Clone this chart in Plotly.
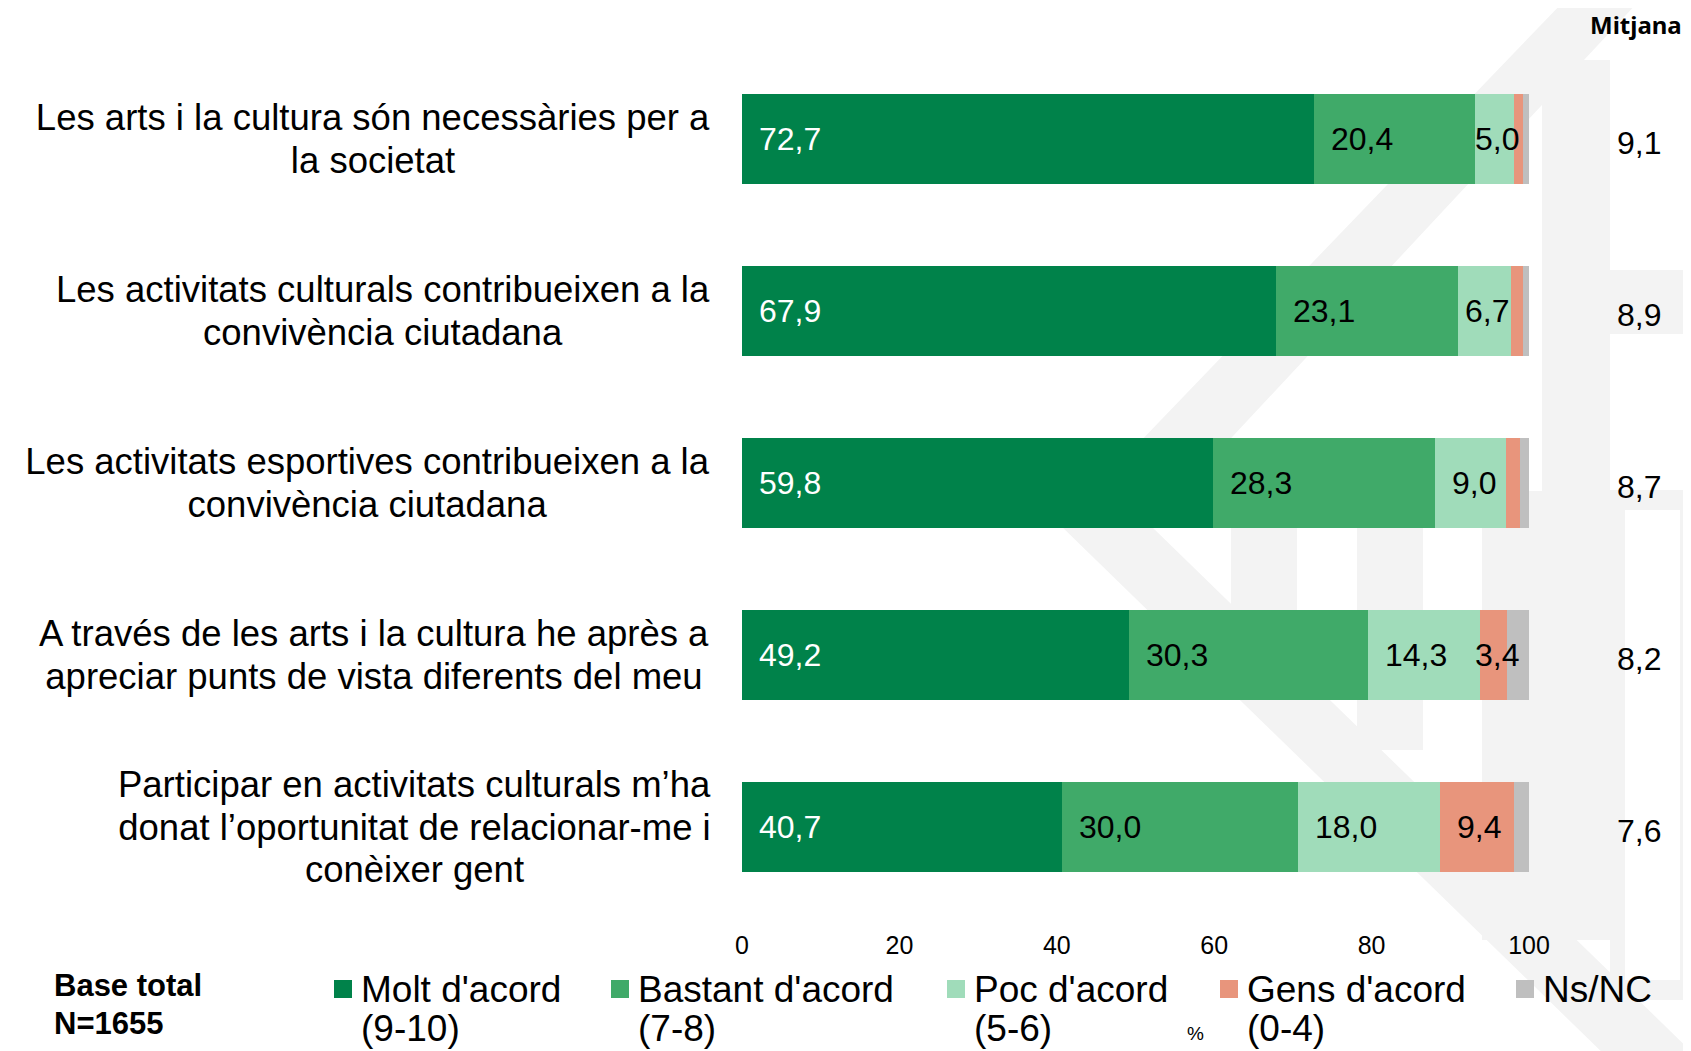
import plotly.graph_objects as go

# statements (top to bottom), one list entry per text line
statements = [
    ["Les arts i la cultura són necessàries per a", "la societat"],
    ["Les activitats culturals contribueixen a la", "convivència ciutadana"],
    ["Les activitats esportives contribueixen a la", "convivència ciutadana"],
    ["A través de les arts i la cultura he après a", "apreciar punts de vista diferents del meu"],
    ["Participar en activitats culturals m’ha", "donat l’oportunitat de relacionar-me i", "conèixer gent"],
]

# % per answer
molt = [72.7, 67.9, 59.8, 49.2, 40.7]
bastant = [20.4, 23.1, 28.3, 30.3, 30.0]
poc = [5.0, 6.7, 9.0, 14.3, 18.0]
gens = [1.2, 1.6, 1.7, 3.4, 9.4]
nsnc = [0.7, 0.7, 1.2, 2.8, 1.9]

mitjana = [9.1, 8.9, 8.7, 8.2, 7.6]

series_names = ["Molt d'acord", "Bastant d'acord", "Poc d'acord", "Gens d'acord", "Ns/NC"]
series_sub = ["(9-10)", "(7-8)", "(5-6)", "(0-4)", ""]
series_values = [molt, bastant, poc, gens, nsnc]
colors = ["#00824A", "#40AA69", "#A0DCBA", "#E8957C", "#BFBFBF"]
label_colors = ["white", "black", "black", "black", None]

# page has an 8px body margin, so the figure is drawn from (8, 8)
OFF = 8
W, H = 1691 - OFF, 1051 - OFF
L, R, T, B = 742 - OFF, 162, 53 - OFF, 138
PW, PH = W - L - R, H - T - B


def px_x(px):
    return (px - OFF - L) / PW


def px_y(py):
    return (H - B - (py - OFF)) / PH


FONT = "Liberation Sans, Arial, sans-serif"
rows = list(range(len(statements)))

fig = go.Figure()

for name, vals, col in zip(series_names, series_values, colors):
    fig.add_trace(go.Bar(
        y=rows, x=vals, orientation="h", name=name,
        marker=dict(color=col, line=dict(width=0)),
        showlegend=False, hoverinfo="x",
    ))

annotations = []

# value labels, inside base with padding, centred when the segment is narrow
pad = 1.9
for k, (vals, tcol) in enumerate(zip(series_values, label_colors)):
    if tcol is None:
        continue
    for i in rows:
        v = vals[i]
        if v < 3:
            continue
        start = sum(sv[i] for sv in series_values[:k])
        txt = f"{v:.1f}".replace(".", ",")
        tw = len(txt) * 1.95 - 0.5
        x0 = start + min(pad, (v - tw) / 2)
        annotations.append(dict(
            x=x0, y=i, xref="x", yref="y", text=txt, showarrow=False,
            xanchor="left", yanchor="middle",
            font=dict(family=FONT, size=32, color=tcol),
        ))

# statement labels: each line centred inside a box that ends left of the axis
box_w = [700, 680, 711, 698, 617]
line_step = 0.247
for i, lines in enumerate(statements):
    n = len(lines)
    for j, line in enumerate(lines):
        annotations.append(dict(
            x=0, y=i + (j - (n - 1) / 2) * line_step, xref="paper", yref="y",
            text=line, showarrow=False, width=box_w[i],
            xanchor="right", yanchor="middle", align="center", xshift=-17,
            font=dict(family=FONT, size=36.5, color="black"),
        ))

# mitjana column
annotations.append(dict(
    x=px_x(1636), y=px_y(24), xref="paper", yref="paper", text="<b>Mitjana</b>",
    showarrow=False, xanchor="center", yanchor="middle",
    font=dict(family="Noto Sans, sans-serif", size=24, color="black"),
))
for i, m in enumerate(mitjana):
    annotations.append(dict(
        x=px_x(1639), y=i, xref="paper", yref="y", text=f"{m:.1f}".replace(".", ","),
        showarrow=False, xanchor="center", yanchor="middle", yshift=-4,
        font=dict(family=FONT, size=32, color="black"),
    ))

# base note and % unit
for txt, yy in [("Base total", 985), ("N=1655", 1023)]:
    annotations.append(dict(
        x=px_x(52), y=px_y(yy), xref="paper", yref="paper",
        text=f"<b>{txt}</b>", showarrow=False, xanchor="left", yanchor="middle",
        font=dict(family=FONT, size=31, color="black"),
    ))
annotations.append(dict(
    x=px_x(1195), y=px_y(1033), xref="paper", yref="paper", text="%", showarrow=False,
    xanchor="center", yanchor="middle", font=dict(family=FONT, size=19, color="black"),
))

# hand-placed legend
shapes = []
legend_left = [334, 611, 947, 1220, 1516]
for name, sub, col, lx in zip(series_names, series_sub, colors, legend_left):
    shapes.append(dict(
        type="rect", xref="paper", yref="paper",
        x0=px_x(lx), x1=px_x(lx + 18), y0=px_y(998), y1=px_y(980),
        fillcolor=col, line=dict(width=0),
    ))
    for txt, yy in [(name, 989), (sub, 1029)]:
        if not txt:
            continue
        annotations.append(dict(
            x=px_x(lx + 25), y=px_y(yy), xref="paper", yref="paper", text=txt,
            showarrow=False, xanchor="left", yanchor="middle", align="left",
            font=dict(family=FONT, size=37, color="black"),
        ))

# faint background logo
wm = "#F3F3F3"
chevron = [(1565, 0), (1640, 0), (1150, 525), (1700, 1060), (1610, 1060), (1060, 525)]
path = "M " + " L ".join(f"{px_x(a):.4f},{px_y(b):.4f}" for a, b in chevron) + " Z"
shapes.append(dict(type="path", path=path, xref="paper", yref="paper",
                   fillcolor=wm, line=dict(width=0), layer="below"))
for x0, y0, x1, y1 in [(1542, 60, 1610, 940), (1610, 270, 1691, 334), (1610, 490, 1691, 1000),
                       (1231, 526, 1297, 700), (1357, 526, 1423, 750), (1482, 491, 1546, 940)]:
    shapes.append(dict(type="rect", xref="paper", yref="paper",
                       x0=px_x(x0), x1=px_x(x1), y0=px_y(y1), y1=px_y(y0),
                       fillcolor=wm, line=dict(width=0), layer="below"))
shapes.append(dict(type="rect", xref="paper", yref="paper",
                   x0=px_x(1625), x1=px_x(1680), y0=px_y(980), y1=px_y(510),
                   fillcolor="white", line=dict(width=0), layer="below"))

fig.update_layout(
    barmode="stack",
    bargap=0.48,
    width=W, height=H,
    margin=dict(l=L, r=R, t=T, b=B, pad=0),
    paper_bgcolor="white",
    plot_bgcolor="rgba(0,0,0,0)",
    showlegend=False,
    annotations=annotations,
    shapes=shapes,
    xaxis=dict(
        range=[0, 100], tickvals=[0, 20, 40, 60, 80, 100],
        showgrid=False, zeroline=False, showline=False,
        ticks="outside", ticklen=10, tickcolor="rgba(0,0,0,0)",
        tickfont=dict(family=FONT, size=25, color="black"),
    ),
    yaxis=dict(
        range=[len(rows) - 0.5, -0.5], showticklabels=False,
        showgrid=False, zeroline=False, showline=False,
    ),
)

fig.write_html("out.html")
